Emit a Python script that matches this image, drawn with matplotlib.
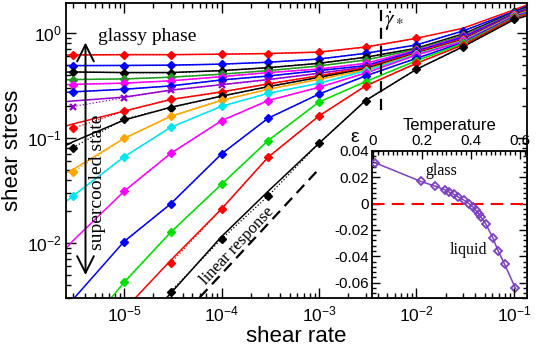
import numpy as np
import matplotlib
matplotlib.use("Agg")
import matplotlib.pyplot as plt
from matplotlib.ticker import LogLocator, MultipleLocator, NullFormatter

plt.rcParams['font.family'] = ['Liberation Sans', 'DejaVu Sans']
plt.rcParams['mathtext.fontset'] = 'custom'
plt.rcParams['mathtext.rm'] = 'Liberation Sans'
plt.rcParams['mathtext.it'] = 'Liberation Sans:italic'
plt.rcParams['mathtext.bf'] = 'Liberation Sans:bold'

nan = np.nan
# ---------------- data (main panel) ----------------
rate = [3e-6, 1e-5, 3e-5, 1e-4, 3e-4, 1e-3, 3e-3, 1e-2, 3e-2, 1e-1]
fit_rate = [2.54e-6, 3e-6, 1e-5, 3e-5, 1e-4, 3e-4, 1e-3, 3e-3, 1e-2, 3e-2, 1e-1, 0.136]

stress_1 = [0.617, 0.622, 0.620, 0.628, 0.637, 0.655, 0.731, 0.889, nan, nan]
stress_2 = [0.489, 0.489, 0.491, 0.505, 0.526, 0.565, 0.640, 0.769, 1.045, 1.60]
stress_3 = [0.425, 0.419, 0.418, 0.438, 0.467, 0.514, 0.587, 0.715, 0.98, 1.57]
stress_4 = [0.360, 0.365, 0.379, 0.405, 0.438, 0.485, 0.553, 0.700, 0.95, 1.55]
stress_5 = [0.322, 0.332, 0.349, 0.384, 0.419, 0.454, 0.514, 0.685, 0.93, 1.53]
stress_6 = [0.274, 0.291, 0.313, 0.357, 0.389, 0.438, 0.489, 0.672, 0.91, 1.52]
stress_7 = [0.199, 0.242, 0.287, 0.320, 0.357, 0.413, 0.475, 0.660, 0.89, 1.50]
stress_8 = [0.124, 0.180, 0.234, 0.272, 0.327, 0.392, 0.465, 0.650, 0.875, 1.49]
stress_9 = [0.081, 0.151, 0.194, 0.251, 0.308, 0.378, 0.455, 0.640, 0.86, 1.48]
stress_10 = [0.0471, 0.0993, 0.162, 0.230, 0.291, 0.362, 0.445, 0.632, 0.85, 1.47]
stress_11 = [0.0282, 0.0664, 0.126, 0.202, 0.266, 0.332, 0.435, 0.625, 0.84, 1.46]
stress_12 = [nan, 0.0313, 0.0715, 0.146, 0.227, 0.304, 0.415, 0.617, 0.83, 1.45]
stress_13 = [nan, 0.0103, 0.0235, 0.0705, 0.154, 0.262, 0.390, 0.574, 0.81, 1.43]
stress_14 = [nan, 0.00428, 0.01264, 0.0362, 0.0943, 0.220, 0.344, 0.545, 0.795, 1.41]
stress_15 = [nan, nan, 0.0064, 0.0211, 0.0655, 0.162, 0.313, 0.514, 0.77, 1.39]
stress_16 = [nan, nan, 0.00344, 0.0109, 0.0280, 0.089, 0.227, 0.451, 0.74, 1.35]

fit_1 = [0.617, 0.617, 0.622, 0.622, 0.628, 0.637, 0.658, 0.735, 0.89, 1.11, 1.66, 1.85]
fit_2 = [0.489, 0.489, 0.491, 0.494, 0.505, 0.526, 0.565, 0.640, 0.77, 1.045, 1.60, 1.80]
fit_3 = [0.424, 0.425, 0.420, 0.420, 0.438, 0.467, 0.514, 0.587, 0.715, 0.98, 1.57, 1.76]
fit_4 = [0.358, 0.360, 0.365, 0.379, 0.405, 0.438, 0.485, 0.553, 0.70, 0.95, 1.55, 1.73]
fit_5 = [0.322, 0.324, 0.333, 0.350, 0.384, 0.419, 0.454, 0.514, 0.685, 0.93, 1.53, 1.71]
fit_6 = [0.272, 0.275, 0.291, 0.313, 0.357, 0.389, 0.438, 0.489, 0.672, 0.91, 1.52, 1.69]
fit_7 = [0.222, 0.225, 0.245, 0.285, 0.322, 0.360, 0.413, 0.475, 0.66, 0.89, 1.50, 1.67]
fit_8 = [0.130, 0.136, 0.180, 0.232, 0.275, 0.327, 0.392, 0.465, 0.65, 0.875, 1.49, 1.65]
fit_9 = [0.085, 0.092, 0.148, 0.196, 0.250, 0.308, 0.378, 0.455, 0.64, 0.86, 1.48, 1.63]
fit_10 = [0.0463, 0.050, 0.099, 0.160, 0.228, 0.291, 0.362, 0.445, 0.632, 0.85, 1.47, 1.61]
fit_11 = [0.0248, 0.028, 0.066, 0.126, 0.200, 0.266, 0.332, 0.435, 0.625, 0.84, 1.46, 1.59]
fit_12 = [0.0089, 0.0105, 0.031, 0.071, 0.146, 0.227, 0.304, 0.415, 0.617, 0.83, 1.45, 1.57]
fit_13 = [0.0024, 0.0029, 0.0103, 0.0235, 0.0705, 0.154, 0.262, 0.390, 0.574, 0.81, 1.43, 1.55]
fit_14 = [0.0009, 0.0011, 0.0042, 0.0126, 0.0362, 0.0943, 0.220, 0.344, 0.545, 0.795, 1.41, 1.53]
fit_15 = [0.0005, 0.0006, 0.0023, 0.0068, 0.0211, 0.0655, 0.162, 0.313, 0.514, 0.77, 1.39, 1.51]
fit_16 = [0.00025, 0.0003, 0.0011, 0.0033, 0.0115, 0.031, 0.089, 0.227, 0.451, 0.74, 1.34, 1.46]

curve_colors = ['#ff0000', '#0000ff', '#000000', '#1f9a1f', '#ff00ff', '#0000ff',
                '#9400d3', '#ff0000', '#000000', '#ffa500', '#00e5ee', '#ff00ff',
                '#0000ff', '#00e000', '#ff0000', '#000000']

# linear-response guide and crossover rate
linear_rate = [6.0e-5, 1.0e-3]
linear_stress = [0.00304, 0.0507]
gstar_rate = [4.3e-3, 4.3e-3]
gstar_stress = [0.185, 2.0]

# ---------------- data (inset) ----------------
temperature = [0.008, 0.195, 0.254, 0.293, 0.311, 0.331, 0.348, 0.373, 0.392,
               0.409, 0.420, 0.431, 0.441, 0.460, 0.489, 0.511, 0.538, 0.582]
epsilon = [0.0311, 0.0169, 0.0133, 0.0106, 0.0088, 0.0070, 0.0050, 0.0025, 0.0,
           -0.0026, -0.0051, -0.0076, -0.0102, -0.0152, -0.0258, -0.0359, -0.0462, -0.0644]

stress_all = [stress_1, stress_2, stress_3, stress_4, stress_5, stress_6, stress_7, stress_8,
              stress_9, stress_10, stress_11, stress_12, stress_13, stress_14, stress_15, stress_16]
fit_all = [fit_1, fit_2, fit_3, fit_4, fit_5, fit_6, fit_7, fit_8,
           fit_9, fit_10, fit_11, fit_12, fit_13, fit_14, fit_15, fit_16]

W, H = 536, 351
fig = plt.figure(figsize=(W / 100, H / 100), dpi=100)
ax = fig.add_axes([66 / W, 53 / H, 461 / W, 295 / H])

for i, (s, f, c) in enumerate(zip(stress_all, fit_all, curve_colors)):
    ax.plot(fit_rate, f, '-', color=c, lw=1.1, zorder=2)
    ax.plot(rate, s, ':', color=c, lw=0.9, zorder=2)
    if i == 6:
        ax.plot(rate, s, 'x', color=c, ms=5, mew=1.6, ls='none', zorder=3)
    else:
        ax.plot(rate, s, 'D', color=c, ms=4.2, mec=c, ls='none', zorder=3)

ax.plot(linear_rate, linear_stress, color='black', lw=1.6, dashes=(5, 3))
ax.plot(gstar_rate, gstar_stress, color='black', lw=1.6, dashes=(5, 3))

ax.set_xscale('log')
ax.set_yscale('log')
ax.set_xlim(2.54e-6, 0.136)
ax.set_ylim(2.99e-3, 1.93)
ax.tick_params(which='both', direction='in', top=True, right=True, labelsize=12.5, width=1)
ax.tick_params(which='major', length=7)
ax.tick_params(axis='x', which='major', pad=5)
ax.tick_params(axis='y', which='major', pad=3)
ax.tick_params(which='minor', length=3.5)
ax.xaxis.set_major_locator(LogLocator(base=10, numticks=20))
ax.xaxis.set_minor_locator(LogLocator(base=10, subs=np.arange(2, 10), numticks=50))
ax.yaxis.set_minor_locator(LogLocator(base=10, subs=np.arange(2, 10), numticks=50))
ax.xaxis.set_minor_formatter(NullFormatter())
ax.yaxis.set_minor_formatter(NullFormatter())
for sp in ax.spines.values():
    sp.set_linewidth(1.3)
ax.set_xlabel('shear rate', fontsize=16, labelpad=1)
ax.set_ylabel('shear stress', fontsize=16, labelpad=3)

# annotations
ax.annotate('', xy=(0.0423, 0.866), xytext=(0.0423, 0.078), xycoords='axes fraction',
            arrowprops=dict(arrowstyle='<->,head_length=0.6,head_width=0.3', lw=1.4,
                            color='black', mutation_scale=20, shrinkA=0, shrinkB=0))
ax.text(0.177, 0.888, 'glassy phase', transform=ax.transAxes, ha='center', va='center',
        fontsize=14, family='Liberation Serif')
ax.text(0.069, 0.393, 'supercooled state', transform=ax.transAxes, ha='center', va='center',
        fontsize=14, family='Liberation Serif', rotation=90)
ax.text(0.371, 0.175, 'linear response', transform=ax.transAxes, ha='center', va='center',
        fontsize=12, family='Liberation Serif', rotation=47, rotation_mode='anchor')
ax.text(0.690, 0.940, r'$\dot{\gamma}_*$', transform=ax.transAxes, ha='left', va='center',
        fontsize=15.5, math_fontfamily='stix')

# ---------------- inset ----------------
inset = fig.add_axes([372 / W, 53 / H, 155 / W, 147 / H], zorder=5)
inset.set_facecolor('white')

# bottom log ticks of the main rate axis continue under the inset
inv = ax.transData.inverted()
r0 = inv.transform(fig.transFigure.transform((372 / W, 0.5)))[0]
r1 = inv.transform(fig.transFigure.transform((527 / W, 0.5)))[0]
tw = inset.twiny()
tw.set_xscale('log')
tw.set_xlim(r0, r1)
tw.xaxis.set_ticks_position('bottom')
tw.xaxis.set_major_locator(LogLocator(base=10, numticks=20))
tw.xaxis.set_minor_locator(LogLocator(base=10, subs=np.arange(2, 10), numticks=50))
tw.xaxis.set_minor_formatter(NullFormatter())
tw.tick_params(which='both', direction='in', labelbottom=False, labeltop=False, top=False,
               bottom=True, width=1)
tw.tick_params(which='major', length=7)
tw.tick_params(which='minor', length=3.5)
for sp in tw.spines.values():
    sp.set_visible(False)

inset.plot(temperature, epsilon, '-', color='#7b3fc4', lw=1.1, zorder=3)
inset.plot(temperature, epsilon, 'D', ms=4.2, mfc='none', mec='#7b3fc4', mew=1.3, ls='none', zorder=4)
inset.axhline(0, color='#ff0000', lw=1.5, dashes=(6, 3.5), zorder=2)
inset.set_xlim(-0.004, 0.629)
inset.set_ylim(-0.0717, 0.04)
inset.xaxis.set_ticks_position('top')
inset.xaxis.set_label_position('top')
inset.xaxis.set_major_locator(MultipleLocator(0.2))
inset.xaxis.set_minor_locator(MultipleLocator(0.02))
inset.yaxis.set_major_locator(MultipleLocator(0.02))
inset.yaxis.set_minor_locator(MultipleLocator(0.004))
inset.xaxis.set_major_formatter(plt.FuncFormatter(lambda v, p: '0' if abs(v) < 1e-9 else f'{v:g}'))
inset.yaxis.set_major_formatter(plt.FuncFormatter(lambda v, p: '0' if abs(v) < 1e-9 else f'{v:g}'))
inset.tick_params(which='both', direction='in', top=True, right=True, left=True, bottom=False,
                  labelbottom=False, labeltop=True, labelleft=True, labelsize=11, width=1, pad=2)
inset.tick_params(which='major', length=6)
inset.tick_params(which='minor', length=3)
for sp in inset.spines.values():
    sp.set_linewidth(1.3)
inset.set_xlabel('Temperature', fontsize=12, labelpad=3)
inset.text(-0.11, 1.09, 'ε', transform=inset.transAxes, ha='center', va='center', fontsize=14)
inset.text(0.445, 0.864, 'glass', transform=inset.transAxes, ha='center', va='center',
           fontsize=11.5, family='Liberation Serif')
inset.text(0.619, 0.327, 'liquid', transform=inset.transAxes, ha='center', va='center',
           fontsize=11.5, family='Liberation Serif')

fig.savefig('out.png', dpi=100, facecolor='white')
